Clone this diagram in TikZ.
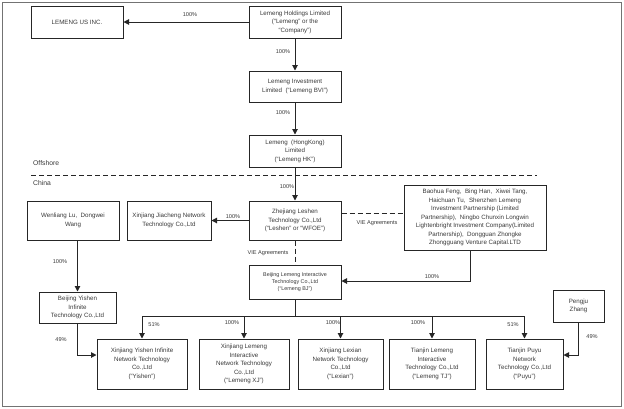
\documentclass[tikz,border=0pt]{standalone}
\usepackage{fontspec}
\setmainfont{Liberation Sans}
\usetikzlibrary{arrows.meta}
\begin{document}
\begin{tikzpicture}[x=1pt,y=-1pt,
  box/.style={draw=black!85, line width=1pt, align=center, inner sep=0pt, font=\fontsize{6.2}{8.5}\selectfont, text=black!78},
  arr/.style={-{Triangle[width=5.5pt,length=5.5pt]}, line width=1pt, draw=black!85},
  ln/.style={line width=1pt, draw=black!85},
  dsh/.style={line width=1pt, draw=black!85, dash pattern=on 5pt off 3pt},
  lbl/.style={font=\fontsize{5.6}{7}\selectfont, text=black!78, inner sep=0pt},
  reg/.style={font=\fontsize{6.8}{8}\selectfont, text=black!78, inner sep=0pt, anchor=west}]
\useasboundingbox (0,0) rectangle (624,408);
\draw[black!55, line width=1pt] (2,2) rectangle (621,406);

\node[box, minimum width=92pt, minimum height=32pt] (us) at (77,22) {LEMENG US INC.};
\node[box, minimum width=92pt, minimum height=32pt] (hold) at (295,22) {Lemeng Holdings Limited\\(“Lemeng” or the\\“Company”)};
\node[box, minimum width=92pt, minimum height=31pt] (bvi) at (295,86.5) {Lemeng Investment\\Limited \ (“Lemeng BVI”)};
\node[box, minimum width=92pt, minimum height=32pt] (hk) at (295,151) {Lemeng \ (HongKong)\\Limited\\(“Lemeng HK”)};
\node[box, minimum width=92pt, minimum height=39pt] (wfoe) at (295,220.5) {Zhejiang Leshen\\Technology Co.,Ltd\\(“Leshen” or “WFOE”)};
\node[box, minimum width=84pt, minimum height=39pt] (jia) at (169,220.5) {Xinjiang Jiacheng Network\\Technology Co.,Ltd};
\node[box, minimum width=92pt, minimum height=39pt] (wen) at (73,220.5) {Wenliang Lu, \ Dongwei\\Wang};
\node[box, minimum width=142pt, minimum height=65pt] (bao) at (475,217.5) {Baohua Feng, \ Bing Han, \ Xiwei Tang,\\Haichuan Tu, \ Shenzhen Lemeng\\Investment Partnership (Limited\\Partnership), \ Ningbo Chunxin Longwin\\Lightenbright Investment Company(Limited\\Partnership), \ Dongguan Zhongke\\Zhongguang Venture Capital.LTD};
\node[box, minimum width=92pt, minimum height=34pt, font=\fontsize{5.4}{7}\selectfont] (bj) at (295,282) {Beijing Lemeng Interactive\\Technology Co.,Ltd\\(“Lemeng BJ”)};
\node[box, minimum width=77pt, minimum height=31pt] (bys) at (77.5,307.5) {Beijing Yishen\\Infinite\\Technology Co.,Ltd};
\node[box, minimum width=51pt, minimum height=32pt] (pen) at (578.5,306) {Pengju\\Zhang};
\node[box, minimum width=90pt, minimum height=50pt] (ys) at (142,364) {Xinjiang Yishen Infinite\\Network Technology\\Co.,Ltd\\(“Yishen”)};
\node[box, minimum width=90pt, minimum height=50pt] (lxj) at (244,364) {Xinjiang Lemeng\\Interactive\\Network Technology\\Co.,Ltd\\(“Lemeng XJ”)};
\node[box, minimum width=85pt, minimum height=50pt] (lex) at (340.5,364) {Xinjiang Lexian\\Network Technology\\Co.,Ltd\\(“Lexian”)};
\node[box, minimum width=86pt, minimum height=50pt] (ltj) at (432,364) {Tianjin Lemeng\\Interactive\\Technology Co.,Ltd\\(“Lemeng TJ”)};
\node[box, minimum width=77pt, minimum height=50pt] (puyu) at (524.5,364) {Tianjin Puyu\\Network\\Technology Co.,Ltd\\(“Puyu”)};

% offshore / china
\coordinate (dl) at (31,175);
\coordinate (dr) at (537,175);
\draw[dsh] (dl) -- (dr);
\node[reg] (off) at (33,163) {Offshore};
\node[reg] (chn) at (33,183) {China};

% top arrows
\draw[arr] (hold.west) -- (us.east);
\node[lbl] (l1) at (190,15) {100\%};
\draw[arr] (hold.south) -- (bvi.north);
\node[lbl] (l2) at (283,52) {100\%};
\draw[arr] (bvi.south) -- (hk.north);
\node[lbl] (l3) at (283,113) {100\%};
\draw[arr] (hk.south) -- (wfoe.north);
\node[lbl] (l4) at (287,187) {100\%};
\draw[arr] (wfoe.west) -- (jia.east);
\node[lbl] (l5) at (233,217) {100\%};

% VIE
\draw[dsh] ([yshift=7.5pt]wfoe.east) -- ([yshift=7.5pt]wfoe.east -| bao.west);
\node[lbl] (v1) at (377,223) {VIE Agreements};
\draw[dsh] (wfoe.south) -- (bj.north);
\node[lbl] (v2) at (268,253) {VIE Agreements};

\draw[arr] ([xshift=-5pt]bao.south) |- ([yshift=1pt]bj.east);
\node[lbl] (l6) at (432,277) {100\%};

\draw[arr] (wen.south -| bys.north) -- (bys.north);
\node[lbl] (l7) at (60,262) {100\%};
\draw[arr] (bys.south) |- ([yshift=9pt]ys.west);
\node[lbl] (l8) at (61,340) {49\%};
\draw[arr] (pen.south) |- ([yshift=9pt]puyu.east);
\node[lbl] (l9) at (592,337) {49\%};

% bus
\coordinate (bus) at (295,316);
\draw[ln] (bj.south) -- (bus);
\draw[ln] (bus -| ys.north) -- (bus -| puyu.north);
\draw[arr] (bus -| ys.north) -- (ys.north);
\draw[arr] (bus -| lxj.north) -- (lxj.north);
\draw[arr] (bus -| lex.north) -- (lex.north);
\draw[arr] (bus -| ltj.north) -- (ltj.north);
\draw[arr] (bus -| puyu.north) -- (puyu.north);
\node[lbl] (b1) at (154,325) {51\%};
\node[lbl] (b2) at (232,323) {100\%};
\node[lbl] (b3) at (333,323) {100\%};
\node[lbl] (b4) at (418,323) {100\%};
\node[lbl] (b5) at (513,325) {51\%};
\end{tikzpicture}
\end{document}
